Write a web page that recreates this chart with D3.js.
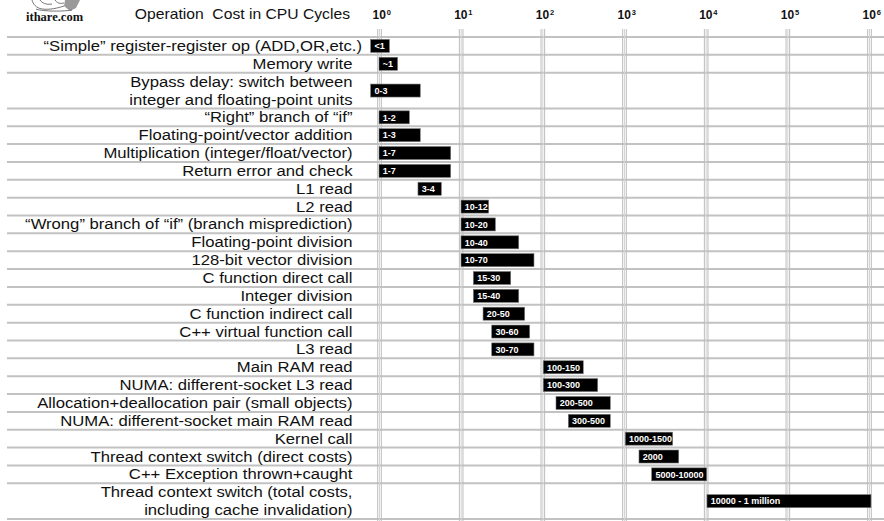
<!DOCTYPE html>
<html><head><meta charset="utf-8">
<script src="https://cdn.jsdelivr.net/npm/d3@7"></script>
<style>
html,body{margin:0;padding:0;background:#fff;}
svg{display:block;}
</style>
</head><body>
<svg id="chart" width="884" height="521"></svg>
<script>
// ---- data ----
const operations = [
  "“Simple” register-register op (ADD,OR,etc.)",
  "Memory write",
  "Bypass delay: switch between|integer and floating-point units",
  "“Right” branch of “if”",
  "Floating-point/vector addition",
  "Multiplication (integer/float/vector)",
  "Return error and check",
  "L1 read",
  "L2 read",
  "“Wrong” branch of “if” (branch misprediction)",
  "Floating-point division",
  "128-bit vector division",
  "C function direct call",
  "Integer division",
  "C function indirect call",
  "C++ virtual function call",
  "L3 read",
  "Main RAM read",
  "NUMA: different-socket L3 read",
  "Allocation+deallocation pair (small objects)",
  "NUMA: different-socket main RAM read",
  "Kernel call",
  "Thread context switch (direct costs)",
  "C++ Exception thrown+caught",
  "Thread context switch (total costs,|including cache invalidation)"
];
const rangeLabels = ["<1","~1","0-3","1-2","1-3","1-7","1-7","3-4","10-12","10-20","10-40","10-70",
  "15-30","15-40","20-50","30-60","30-70","100-150","100-300","200-500","300-500",
  "1000-1500","2000","5000-10000","10000 - 1 million"];
// bar extents as drawn (cycles)
const barStart = [0.79,1.0,0.79,1.0,1.0,1.0,1.0,3.0,10.1,10.1,10.1,10.1,
  14.3,14.3,18.8,24,24,102.7,102.7,147,208,1037,1526,2183,10376];
const barEnd = [1.34,1.69,3.2,2.35,3.2,7.55,7.55,5.8,22,26.6,51.4,79,
  41,51.4,60.8,70,79,317,476,679,679,3946,4677,10292,1.057e6];
const rowSpan = [1,1,2,1,1,1,1,1,1,1,1,1,1,1,1,1,1,1,1,1,1,1,1,1,2];
const tickValues = [1,10,100,1000,10000,100000,1000000];
const tickExponents = ["0","1","2","3","4","5","6"];
const titleText = "Operation  Cost in CPU Cycles";

// ---- layout ----
const svg = d3.select("#chart");
const W = 884, H = 521;
const x = d3.scaleLog().domain([1, 1e6]).range([379, 869]);
const totalUnits = d3.sum(rowSpan);
const yU = d3.scaleLinear().domain([0, totalUnits]).range([37, 519]);
const offsets = [];
let acc = 0;
rowSpan.forEach(s => { offsets.push(acc); acc += s; });

const rows = operations.map((op, i) => ({
  op, label: rangeLabels[i], s: barStart[i], e: barEnd[i],
  y0: yU(offsets[i]), y1: yU(offsets[i] + rowSpan[i])
}));

// logo
const logo = svg.append("g").attr("class","logo");
logo.append("path").attr("d","M65,0 L80,0 L76,8 L70,11 L64,6 Z").attr("fill","#9a9a9a");
logo.append("path").attr("d","M32,0 C33,4 36,8 42,9 C50,10 58,8 64,6 M40,0 C42,3 46,5 52,4 M55,0 C57,3 60,4 64,3 M36,9 C40,11 60,12 72,10")
  .attr("fill","none").attr("stroke","#666").attr("stroke-width",0.9);
logo.append("text").attr("x",26).attr("y",20.5)
  .attr("font-family","'Liberation Serif','DejaVu Serif',serif").attr("font-weight","bold")
  .attr("font-size",12.5).attr("fill","#111").text("ithare.com");

// title
svg.append("g").attr("transform","translate(350,19) scale(1.12,1)")
  .append("text").attr("text-anchor","end").style("white-space","pre")
  .attr("font-family","'Liberation Sans',Arial,sans-serif").attr("font-size",14)
  .attr("fill","#111").text(titleText);

// horizontal row lines
const bounds = rows.map(r => r.y0).concat([yU(totalUnits)]);
svg.append("g").selectAll("line").data(bounds).join("line")
  .attr("x1",7).attr("x2",W).attr("y1",d=>d).attr("y2",d=>d)
  .attr("stroke","#c2c2c2").attr("stroke-width",2);

// axis (ticks + grid)
const axis = d3.axisTop(x).tickValues(tickValues).tickSize(0).tickFormat("");
const ax = svg.append("g").call(axis);
ax.select(".domain").remove();
ax.selectAll(".tick").each(function(d, i) {
  const g = d3.select(this);
  [-1.8, 0, 1.8].forEach((dx, k) => {
    g.append("line").attr("x1",dx).attr("x2",dx).attr("y1",29).attr("y2",H)
      .attr("stroke", k === 1 ? "#d4d4d4" : "#bcbcbc").attr("stroke-width",1);
  });
  const t = g.append("text").attr("x",-7).attr("y",19.3).attr("text-anchor","start")
    .attr("font-family","'Liberation Sans',Arial,sans-serif").attr("font-weight","bold")
    .attr("font-size",12).attr("fill","#111");
  t.append("tspan").text("10");
  t.append("tspan").attr("dx",0.8).attr("dy",-4.5).attr("font-size",7.5).text(tickExponents[i]);
});

// operation labels
const lab = svg.append("g");
rows.forEach((r, i) => {
  const lines = r.op.split("|");
  const cy = (r.y0 + r.y1) / 2;
  const right = i === 0 ? 362 : 352.5;
  lines.forEach((ln, j) => {
    const ly = cy + (j - (lines.length - 1) / 2) * 18 + 5;
    lab.append("g").attr("transform",`translate(${right},${ly}) scale(1.15,1)`)
      .append("text").attr("text-anchor","end")
      .attr("font-family","'Liberation Sans',Arial,sans-serif").attr("font-size",14.5)
      .attr("fill","#111").text(ln);
  });
});

// bars
const bars = svg.append("g").selectAll("g").data(rows).join("g");
bars.append("rect")
  .attr("x", d => x(d.s)).attr("width", d => x(d.e) - x(d.s))
  .attr("y", d => (d.y0 + d.y1) / 2 - 6.5).attr("height", 13)
  .attr("fill","#000").attr("stroke","#777").attr("stroke-width",0.6);
bars.append("text")
  .attr("x", d => x(d.s) + 3.8).attr("y", d => (d.y0 + d.y1) / 2 + 3.3)
  .attr("font-family","'Liberation Sans',Arial,sans-serif").attr("font-weight","bold")
  .attr("font-size",9).attr("fill","#fff").style("white-space","pre")
  .text(d => d.label);
</script>
</body></html>
